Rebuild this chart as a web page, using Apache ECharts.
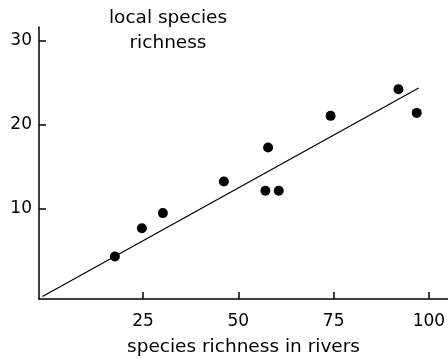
<!DOCTYPE html>
<html><head><meta charset="utf-8">
<script src="https://cdn.jsdelivr.net/npm/echarts@6/dist/echarts.min.js"></script>
<style>html,body{margin:0;padding:0;background:#fff}#c{width:448px;height:359px}</style>
</head><body><div id="c"></div>
<script>
const riverRichness = [17.6, 24.7, 30.2, 46.2, 57.1, 60.6, 57.8, 74.2, 92.0, 96.8];
const localRichness = [4.35, 7.7, 9.5, 13.25, 12.15, 12.15, 17.3, 21.05, 24.2, 21.4];
const fitX = [-1.4, 97.3];
const fitY = [-0.4, 24.35];
const xTicks = [25, 50, 75, 100];
const yTicks = [10, 20, 30];

const font = '"DejaVu Sans", sans-serif';
const chart = echarts.init(document.getElementById('c'));
chart.setOption({
  animation: false,
  grid: {left: 39, top: 27, right: 0, bottom: 60, containLabel: false, outerBoundsMode: 'none'},
  graphic: [{
    type: 'text', x: 168, y: 6, z: 10,
    style: {text: 'local species\nrichness', align: 'center', verticalAlign: 'top', fontSize: 18.5, fontFamily: font, lineHeight: 25, fill: '#000'}
  }],
  xAxis: {
    type: 'value', min: -2.3, max: 105,
    name: 'species richness in rivers', nameLocation: 'middle', nameGap: 39,
    nameTextStyle: {fontSize: 18.5, fontFamily: font, color: '#000'},
    axisLine: {onZero: false, lineStyle: {color: '#000', width: 1.5}},
    axisTick: {inside: true, length: 7, customValues: xTicks, lineStyle: {color: '#000', width: 1.5}},
    axisLabel: {customValues: xTicks, fontSize: 17, fontFamily: font, color: '#000', margin: 14},
    splitLine: {show: false}
  },
  yAxis: {
    type: 'value', min: -0.7, max: 31.6,
    axisLine: {show: true, onZero: false, lineStyle: {color: '#000', width: 1.5}},
    axisTick: {show: true, inside: true, length: 7, customValues: yTicks, lineStyle: {color: '#000', width: 1.5}},
    axisLabel: {customValues: yTicks, fontSize: 17, fontFamily: font, color: '#000', margin: 7},
    splitLine: {show: false}
  },
  series: [{
    type: 'line', data: fitX.map((x, i) => [x, fitY[i]]), showSymbol: false, symbol: 'none',
    lineStyle: {color: '#000', width: 1.3}, silent: true
  }, {
    type: 'scatter', data: riverRichness.map((x, i) => [x, localRichness[i]]),
    symbolSize: 10, itemStyle: {color: '#000', opacity: 1}
  }]
});
</script></body></html>
